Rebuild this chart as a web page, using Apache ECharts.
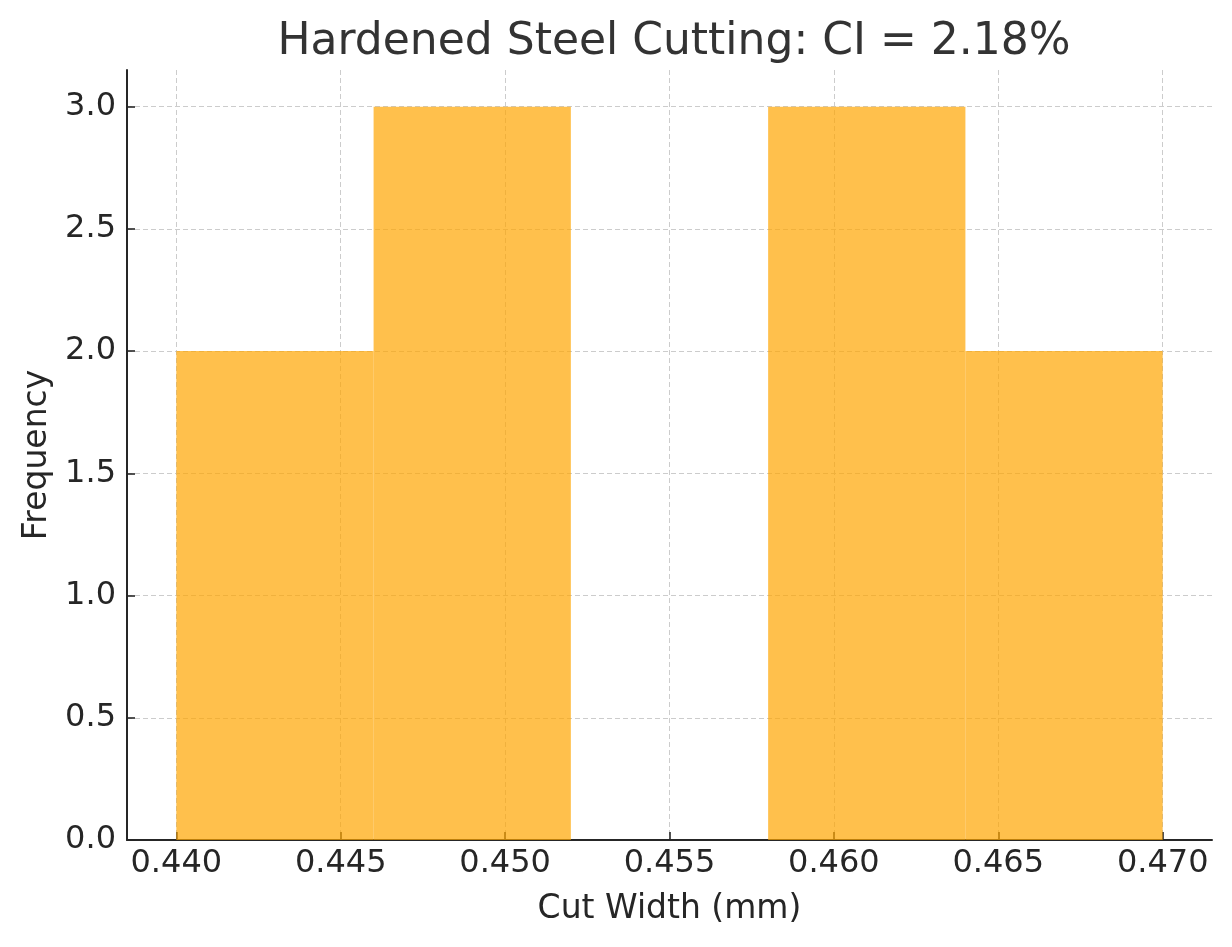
<!DOCTYPE html>
<html><head><meta charset="utf-8">
<script src="https://cdn.jsdelivr.net/npm/echarts@6/dist/echarts.min.js"></script>
<style>html,body{margin:0;padding:0;background:#fff}#c{width:1232px;height:947px}</style>
</head><body><div id="c"></div>
<script>
const binStarts = [0.440, 0.446, 0.452, 0.458, 0.464];
const binEnds   = [0.446, 0.452, 0.458, 0.464, 0.470];
const counts    = [2, 3, 0, 3, 2];
const xTicks = [0.440, 0.445, 0.450, 0.455, 0.460, 0.465, 0.470];
const yTicks = [0, 0.5, 1.0, 1.5, 2.0, 2.5, 3.0];

const data = binStarts.map((s, i) => [s, binEnds[i], counts[i]]);
const txt = '#262626';
const chart = echarts.init(document.getElementById('c'), null, {renderer: 'canvas'});
chart.setOption({
  animation: false,
  backgroundColor: '#fff',
  title: {text: 'Hardened Steel Cutting: CI = 2.18%', left: 669, top: 16, textAlign: 'center',
    textStyle: {fontFamily: 'DejaVu Sans', fontSize: 44, fontWeight: 'normal', color: '#333333'}},
  grid: {left: 127, right: 20, top: 70, bottom: 107},
  xAxis: {type: 'value', min: 0.4385, max: 0.4715,
    name: 'Cut Width (mm)', nameLocation: 'middle', nameGap: 53,
    nameTextStyle: {fontFamily: 'DejaVu Sans', fontSize: 33, color: txt},
    axisLine: {show: true, lineStyle: {color: '#262626', width: 2}},
    axisTick: {show: true, inside: true, customValues: xTicks, length: 8, lineStyle: {color: '#262626', width: 1.6}},
    axisLabel: {customValues: xTicks, formatter: v => v.toFixed(3), fontFamily: 'DejaVu Sans', fontSize: 32, color: txt, margin: 8},
    splitLine: {show: true, lineStyle: {color: '#cccccc', type: [5, 3], width: 1}}
  },
  yAxis: {type: 'value', min: 0, max: 3.15,
    name: 'Frequency', nameLocation: 'middle', nameGap: 72,
    nameTextStyle: {fontFamily: 'DejaVu Sans', fontSize: 33, color: txt},
    axisLine: {show: true, lineStyle: {color: '#262626', width: 2}},
    axisTick: {show: true, inside: true, customValues: yTicks, length: 8, lineStyle: {color: '#262626', width: 1.6}},
    axisLabel: {customValues: yTicks, formatter: v => v.toFixed(1), fontFamily: 'DejaVu Sans', fontSize: 32, color: txt, margin: 11},
    splitLine: {show: true, lineStyle: {color: '#cccccc', type: [5, 3], width: 1}}
  },
  series: [{
    type: 'custom',
    data: data,
    z: 1,
    renderItem: function(params, api) {
      const p0 = api.coord([api.value(0), 0]);
      const p1 = api.coord([api.value(1), api.value(2)]);
      return {type: 'rect', shape: {x: p0[0], y: p1[1], width: p1[0] - p0[0], height: p0[1] - p1[1]},
        style: {fill: 'rgba(255,165,0,0.7)'}};
    }
  }]
});
</script></body></html>
